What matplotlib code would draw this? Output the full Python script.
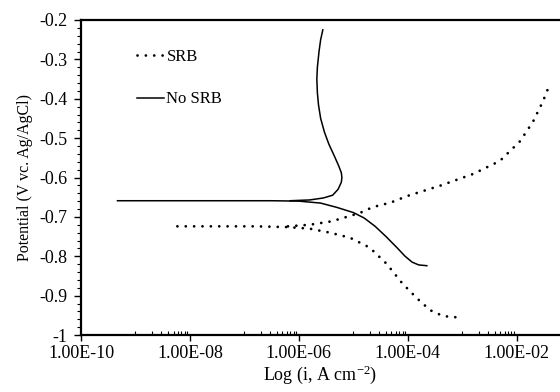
import matplotlib
matplotlib.use("Agg")
import matplotlib.pyplot as plt
from matplotlib.ticker import FixedLocator, FuncFormatter, MultipleLocator
import numpy as np

# ---- data (log10 of current density, potential V) ----
nosrb_cath_logi = [-9.33, -8.5, -7.5, -6.5, -6.0, -5.6, -5.3, -5.0, -4.8, -4.6, -4.4, -4.2, -4.05, -3.92, -3.80, -3.65]
nosrb_cath_E = [-0.659, -0.659, -0.659, -0.659, -0.660, -0.665, -0.676, -0.689, -0.703, -0.724, -0.750, -0.778, -0.800, -0.815, -0.822, -0.824]

nosrb_anod_logi = [-6.16, -5.80, -5.55, -5.38, -5.28, -5.22, -5.21, -5.22, -5.27, -5.35, -5.45, -5.53, -5.60, -5.64, -5.66, -5.67, -5.66, -5.63, -5.60, -5.56]
nosrb_anod_E = [-0.659, -0.657, -0.652, -0.645, -0.630, -0.612, -0.600, -0.588, -0.570, -0.545, -0.515, -0.485, -0.450, -0.415, -0.385, -0.350, -0.320, -0.280, -0.250, -0.225]

srb_cath_logi = [-8.23, -7.5, -6.8, -6.2, -5.8, -5.43, -5.06, -4.70, -4.39, -4.10, -3.83, -3.59, -3.35, -3.11]
srb_cath_E = [-0.724, -0.724, -0.724, -0.726, -0.730, -0.740, -0.753, -0.778, -0.819, -0.869, -0.907, -0.937, -0.952, -0.955]

srb_anod_logi = [-6.2, -5.8, -5.43, -5.24, -4.88, -4.64, -4.32, -4.01, -3.41, -2.80, -2.31, -1.94, -1.70, -1.52, -1.39]
srb_anod_E = [-0.724, -0.720, -0.712, -0.705, -0.690, -0.675, -0.664, -0.647, -0.621, -0.591, -0.558, -0.508, -0.458, -0.407, -0.362]

x_major = [1e-10, 1e-8, 1e-6, 1e-4, 1e-2]
y_major = [-1.0, -0.9, -0.8, -0.7, -0.6, -0.5, -0.4, -0.3, -0.2]

plt.rcParams['font.family'] = ['Liberation Serif', 'DejaVu Serif']
plt.rcParams['font.size'] = 12
plt.rcParams['mathtext.fontset'] = 'custom'
plt.rcParams['mathtext.rm'] = 'Liberation Serif'
plt.rcParams['mathtext.it'] = 'Liberation Serif:italic'
plt.rcParams['axes.unicode_minus'] = False

fig = plt.figure(figsize=(5.6, 3.92), dpi=100)
ax = fig.add_axes([81/560, 1-335/392, 1-81/560, (335-20)/392])

dot_style = dict(color='black', lw=2.0, linestyle=(0, (0.01, 3.0)), dash_capstyle='round')
solid_style = dict(color='black', lw=1.1)

ax.plot(10**np.array(srb_cath_logi), srb_cath_E, label='SRB', **dot_style)
ax.plot(10**np.array(srb_anod_logi), srb_anod_E, **dot_style)
ax.plot(10**np.array(nosrb_cath_logi), nosrb_cath_E, label='No SRB', **solid_style)
ax.plot(10**np.array(nosrb_anod_logi), nosrb_anod_E, **solid_style)

ax.set_xscale('log')
ax.set_xlim(1e-10, 10**(-10 + (560-80.7)/54.5))
ax.set_ylim(-1.0, -0.2)

ax.xaxis.set_major_locator(FixedLocator(x_major))
minors = [10**(k+1)*m for k in range(-10, 0, 2) for m in range(1, 10)]
ax.xaxis.set_minor_locator(FixedLocator(minors))
ax.xaxis.set_major_formatter(FuncFormatter(lambda v, p: f"{v:.2E}"))
ax.xaxis.set_minor_formatter(FuncFormatter(lambda v, p: ""))

ax.yaxis.set_major_locator(FixedLocator(y_major))
ax.yaxis.set_minor_locator(MultipleLocator(0.02))
ax.yaxis.set_major_formatter(FuncFormatter(lambda v, p: f"{round(v, 2):g}"))

ax.tick_params(axis='x', which='major', direction='out', length=4, width=1, pad=3, labelsize=13)
ax.tick_params(axis='x', which='minor', direction='in', length=3, width=0.8)
ax.tick_params(axis='y', which='major', direction='out', length=5, width=1, pad=5, labelsize=13)
ax.tick_params(axis='y', which='minor', direction='out', length=3, width=0.8)

for s in ['left', 'bottom', 'top']:
    ax.spines[s].set_linewidth(1.6)
ax.spines['right'].set_visible(False)

ax.set_xlabel('Log (i, A cm$^{\\mathrm{-2}}$)', labelpad=1, fontsize=13)
ax.set_ylabel('Potential (V vc. Ag/AgCl)', labelpad=4, fontsize=11.5)

ax.legend(loc='upper left', bbox_to_anchor=(0.1, 0.935), frameon=False,
          handlelength=1.6, handletextpad=0.15, labelspacing=1.6, borderpad=0)

fig.savefig('out.png', dpi=100)
